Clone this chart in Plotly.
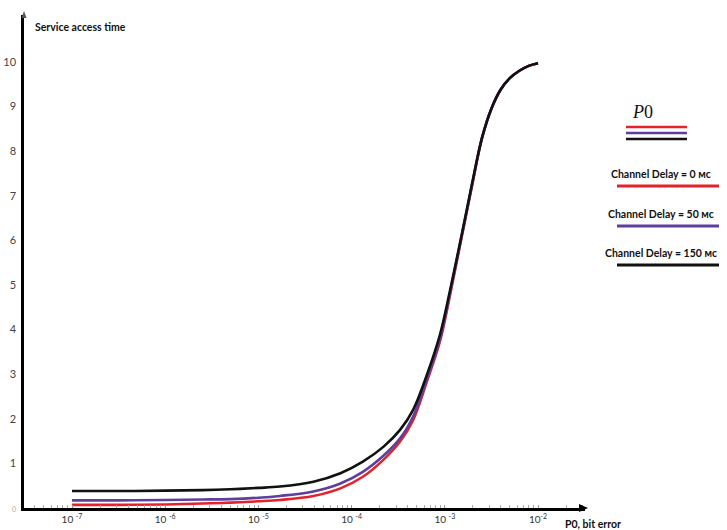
import plotly.graph_objects as go

# P0 (bit error probability) sample points
p0 = [1.0e-7, 3.16e-7, 1.0e-6, 2.51e-6, 5.01e-6, 1.0e-5, 1.70e-5, 3.89e-5,
      7.59e-5, 1.32e-4, 2.19e-4, 3.31e-4, 4.57e-4, 6.46e-4, 8.91e-4, 1.17e-3,
      1.51e-3, 1.95e-3, 2.51e-3, 3.16e-3, 3.98e-3, 5.01e-3, 6.31e-3, 7.94e-3,
      1.0e-2]

delay_0 = [0.07, 0.07, 0.08, 0.10, 0.12, 0.15, 0.18, 0.27, 0.44, 0.70, 1.08,
           1.49, 1.97, 2.85, 3.75, 4.90, 6.05, 7.20, 8.30, 8.95, 9.38, 9.64,
           9.80, 9.91, 9.97]
delay_50 = [0.17, 0.17, 0.18, 0.19, 0.20, 0.23, 0.27, 0.37, 0.55, 0.81, 1.17,
            1.56, 2.05, 2.90, 3.80, 4.95, 6.08, 7.22, 8.30, 8.95, 9.38, 9.64,
            9.80, 9.91, 9.97]
delay_150 = [0.38, 0.38, 0.39, 0.40, 0.42, 0.45, 0.48, 0.59, 0.78, 1.04, 1.37,
             1.75, 2.20, 3.00, 3.90, 5.00, 6.10, 7.25, 8.30, 8.95, 9.38, 9.64,
             9.80, 9.91, 9.97]

series_names = ["Channel Delay = 0 мс", "Channel Delay = 50 мс", "Channel Delay = 150 мс"]
series_colors = ["#e4222b", "#5e3f9c", "#111111"]

x_tick_vals = [1e-7, 1e-6, 1e-5, 1e-4, 1e-3, 1e-2]
x_tick_text = ["10 <sup>-7</sup>", "10 <sup>-6</sup>", "10 <sup>-5</sup>",
               "10 <sup>-4</sup>", "10 <sup>-3</sup>", "10<sup>-2</sup>"]
y_tick_vals = [0, 1, 2, 3, 4, 5, 6, 7, 8, 9, 10]
y_tick_text = ["<span style='font-size:7px;color:#aaaaaa'>0</span>",
               "1", "2", "3", "4", "5", "6", "7", "8", "9", "10"]

W, H = 727, 530
L, R, T, B = 24, 142, 15, 22
pw, ph = W - L - R, H - T - B


def px(x):
    return (x - L) / pw


def py(y):
    return (H - B - y) / ph


fig = go.Figure()
for vals, name, col in zip([delay_0, delay_50, delay_150], series_names, series_colors):
    fig.add_trace(go.Scatter(x=p0, y=vals, mode="lines", name=name,
                             line=dict(color=col, width=2.6, shape="spline", smoothing=1.0),
                             showlegend=False))

font_main = "Lato, 'Open Sans', sans-serif"

fig.update_layout(
    width=W, height=H,
    margin=dict(l=L, r=R, t=T, b=B),
    paper_bgcolor="white", plot_bgcolor="white",
    font=dict(family=font_main, color="#444444", size=11),
    xaxis=dict(type="log", range=[-7.515, -1.496], showgrid=False, zeroline=False,
               showline=True, linecolor="black", linewidth=2.5,
               tickmode="array", tickvals=x_tick_vals, ticktext=x_tick_text,
               ticks="inside", ticklen=3, tickcolor="#999999",
               minor=dict(ticks="inside", ticklen=3, tickcolor="#aaaaaa", dtick="D1", showgrid=False),
               tickfont=dict(size=10, color="#333333", family=font_main),
               automargin=False),
    yaxis=dict(range=[0, 11.05], showgrid=False, zeroline=False,
               showline=True, linecolor="black", linewidth=2.5,
               tickmode="array", tickvals=y_tick_vals, ticktext=y_tick_text,
               ticks="", tickfont=dict(size=11, color="#444444", family=font_main),
               ticklabelstandoff=3,
               automargin=False),
)

# axis arrowheads (small triangles)
ax_end = 588
fig.add_shape(type="path", xref="paper", yref="paper",
              path=f"M {px(ax_end)} {py(508)} L {px(ax_end - 9)} {py(504)} L {px(ax_end - 9)} {py(512)} Z",
              fillcolor="black", line=dict(color="black", width=0))
fig.add_shape(type="path", xref="paper", yref="paper",
              path=f"M {px(24)} {py(11)} L {px(21.5)} {py(18)} L {px(26.5)} {py(18)} Z",
              fillcolor="#555555", line=dict(color="#555555", width=0))

# axis titles
fig.add_annotation(xref="paper", yref="paper", x=px(33), y=py(27), xanchor="left", yanchor="middle",
                   text="<b>Service access time</b>", showarrow=False,
                   font=dict(size=10.5, color="#111111", family=font_main))
fig.add_annotation(xref="paper", yref="paper", x=px(563), y=py(524), xanchor="left", yanchor="middle",
                   text="<b>P0, bit error</b>", showarrow=False,
                   font=dict(size=10.5, color="#111111", family=font_main))

# custom legend
fig.add_annotation(xref="paper", yref="paper", x=px(642), y=py(112), xanchor="center", yanchor="middle",
                   text="<i>P</i>0", showarrow=False,
                   font=dict(size=18, color="#111111", family="'Liberation Serif', 'DejaVu Serif', serif"))
for yy, col in zip([127, 133, 139], series_colors):
    fig.add_shape(type="line", xref="paper", yref="paper", x0=px(626), x1=px(687),
                  y0=py(yy), y1=py(yy), line=dict(color=col, width=2.6))

for ty, ly, name, col in zip([174, 214, 253], [186, 226, 265], series_names, series_colors):
    fig.add_annotation(xref="paper", yref="paper", x=px(661), y=py(ty), xanchor="center", yanchor="middle",
                       text="<b>" + name + "</b>", showarrow=False,
                       font=dict(size=10.5, color="#111111", family=font_main))
    fig.add_shape(type="line", xref="paper", yref="paper", x0=px(617), x1=px(719),
                  y0=py(ly), y1=py(ly), line=dict(color=col, width=2.8))

fig.write_html("out.html", config={"displayModeBar": False},
               post_script="document.body.style.margin='0';document.body.style.padding='0';")
